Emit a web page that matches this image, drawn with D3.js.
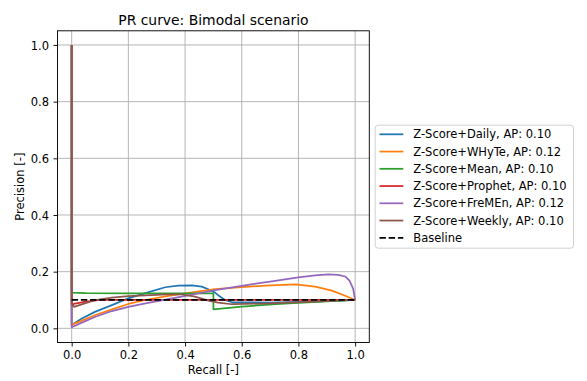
<!DOCTYPE html>
<html>
<head>
<meta charset="utf-8">
<script src="https://cdn.jsdelivr.net/npm/d3@7"></script>
<style>
  html, body { margin: 0; padding: 0; background: #fff; }
  svg { display: block; font-family: "DejaVu Sans", sans-serif; }
</style>
</head>
<body>
<svg id="chart" width="587" height="381"></svg>
<script>
// ---- data ----
const seriesNames = ["Z-Score+Daily", "Z-Score+WHyTe", "Z-Score+Mean", "Z-Score+Prophet", "Z-Score+FreMEn", "Z-Score+Weekly"];
const apValues = [0.10, 0.12, 0.10, 0.10, 0.12, 0.10];
const seriesColors = ["#1f77b4", "#ff7f0e", "#2ca02c", "#d62728", "#9467bd", "#8c564b"];

const recallDaily    = [0, 0, 0.036, 0.084, 0.142, 0.2, 0.26, 0.33, 0.376, 0.424, 0.459, 0.482, 0.506, 0.523, 0.541, 0.565, 0.7, 0.85, 1];
const precisionDaily = [1, 0.012, 0.035, 0.059, 0.082, 0.106, 0.124, 0.145, 0.151, 0.152, 0.147, 0.138, 0.126, 0.112, 0.100, 0.092, 0.091, 0.094, 0.1];

const recallWHyTe    = [0, 0, 0.036, 0.084, 0.142, 0.2, 0.26, 0.336, 0.42, 0.506, 0.6, 0.7, 0.79, 0.859, 0.918, 0.965, 1];
const precisionWHyTe = [1, 0.012, 0.027, 0.047, 0.067, 0.086, 0.1, 0.114, 0.126, 0.138, 0.145, 0.152, 0.155, 0.147, 0.133, 0.115, 0.1];

const recallMean    = [0, 0, 0.05, 0.2, 0.5, 0.5, 0.6, 0.75, 1];
const precisionMean = [1, 0.126, 0.124, 0.123, 0.123, 0.067, 0.077, 0.087, 0.1];

const recallProphet    = [0, 0, 0.007, 0.05, 0.1, 1];
const precisionProphet = [1, 0.08, 0.086, 0.094, 0.1, 0.1];

const recallFreMEn    = [0, 0, 0.036, 0.084, 0.142, 0.2, 0.26, 0.336, 0.42, 0.506, 0.6, 0.7, 0.8, 0.859, 0.906, 0.94, 0.965, 0.98, 0.993, 1];
const precisionFreMEn = [1, 0.004, 0.02, 0.041, 0.061, 0.076, 0.088, 0.102, 0.118, 0.135, 0.15, 0.165, 0.18, 0.187, 0.19, 0.189, 0.183, 0.168, 0.14, 0.1];

const recallWeekly    = [0, 0, 0.008, 0.03, 0.084, 0.142, 0.2, 0.26, 0.336, 0.388, 0.435, 0.482, 0.517, 0.565, 0.7, 0.85, 1];
const precisionWeekly = [1, 0.09, 0.076, 0.083, 0.1, 0.108, 0.114, 0.116, 0.12, 0.12, 0.112, 0.098, 0.091, 0.085, 0.088, 0.094, 0.1];

const recallBaseline    = [0, 1];
const precisionBaseline = [0.1, 0.1];

const tickValues = [0, 0.2, 0.4, 0.6, 0.8, 1.0];
const titleText = "PR curve: Bimodal scenario";
const xLabel = "Recall [-]";
const yLabel = "Precision [-]";
const baselineLabel = "Baseline";

const seriesRecall = [recallDaily, recallWHyTe, recallMean, recallProphet, recallFreMEn, recallWeekly];
const seriesPrecision = [precisionDaily, precisionWHyTe, precisionMean, precisionProphet, precisionFreMEn, precisionWeekly];

// ---- layout ----
const svg = d3.select("#chart");
const L = 57.5, R = 369.3, T = 30.8, B = 342.5;
const x = d3.scaleLinear().domain([-0.05, 1.05]).range([L, R]);
const y = d3.scaleLinear().domain([-0.05, 1.05]).range([B, T]);
const fs = 11.5;
const lw = 1.75;

// grid
const grid = svg.append("g");
tickValues.forEach(v => {
  grid.append("line").attr("x1", x(v)).attr("x2", x(v)).attr("y1", T).attr("y2", B)
    .attr("stroke", "#b0b0b0").attr("stroke-width", 0.93);
  grid.append("line").attr("x1", L).attr("x2", R).attr("y1", y(v)).attr("y2", y(v))
    .attr("stroke", "#b0b0b0").attr("stroke-width", 0.93);
});

// clip
svg.append("clipPath").attr("id", "clip").append("rect")
  .attr("x", L).attr("y", T).attr("width", R - L).attr("height", B - T);

const line = d3.line().x(d => x(d[0])).y(d => y(d[1]));
const plot = svg.append("g").attr("clip-path", "url(#clip)");

seriesNames.forEach((name, i) => {
  const pts = seriesRecall[i].map((r, j) => [r, seriesPrecision[i][j]]);
  plot.append("path").datum(pts).attr("d", line)
    .attr("fill", "none").attr("stroke", seriesColors[i])
    .attr("stroke-width", lw).attr("stroke-linejoin", "round").attr("stroke-linecap", "butt");
});
plot.append("path").datum(recallBaseline.map((r, j) => [r, precisionBaseline[j]])).attr("d", line)
  .attr("fill", "none").attr("stroke", "#000").attr("stroke-width", lw)
  .attr("stroke-dasharray", "6.4,2.8");

// axes
const xAxis = d3.axisBottom(x).tickValues(tickValues).tickFormat(d3.format(".1f"))
  .tickSizeInner(4).tickSizeOuter(0).tickPadding(4.5);
const yAxis = d3.axisLeft(y).tickValues(tickValues).tickFormat(d3.format(".1f"))
  .tickSizeInner(4).tickSizeOuter(0).tickPadding(4.5);
const gx = svg.append("g").attr("transform", `translate(0,${B})`).call(xAxis);
const gy = svg.append("g").attr("transform", `translate(${L},0)`).call(yAxis);
[gx, gy].forEach(g => {
  g.select(".domain").remove();
  g.selectAll(".tick line").attr("stroke", "#000").attr("stroke-width", 0.93);
  g.selectAll(".tick text").attr("fill", "#000").attr("font-size", fs)
    .attr("font-family", "DejaVu Sans");
});
gy.selectAll(".tick text").attr("dy", "0.36em");

// spines
svg.append("rect").attr("x", L).attr("y", T).attr("width", R - L).attr("height", B - T)
  .attr("fill", "none").attr("stroke", "#000").attr("stroke-width", 0.93);

// title & labels
svg.append("text").attr("x", (L + R) / 2).attr("y", 24.5).attr("text-anchor", "middle")
  .attr("font-size", 13.9).attr("fill", "#000").text(titleText);
svg.append("text").attr("x", (L + R) / 2).attr("y", 374).attr("text-anchor", "middle")
  .attr("font-size", fs).attr("fill", "#000").text(xLabel);
svg.append("text").attr("transform", `translate(24,${(T + B) / 2}) rotate(-90)`)
  .attr("text-anchor", "middle").attr("font-size", fs).attr("fill", "#000").text(yLabel);

// legend
const lg = svg.append("g");
lg.append("rect").attr("x", 375.2).attr("y", 125.2).attr("width", 198.3).attr("height", 123)
  .attr("rx", 3).attr("ry", 3).attr("fill", "#fff").attr("fill-opacity", 0.8)
  .attr("stroke", "#cccccc").attr("stroke-width", 0.93);
const rowY0 = 134.3, rowDy = 17.25;
const legendItems = seriesNames.map((n, i) => ({ label: `${n}, AP: ${apValues[i].toFixed(2)}`, color: seriesColors[i], dash: null }));
legendItems.push({ label: baselineLabel, color: "#000", dash: "6.4,2.8" });
legendItems.forEach((it, i) => {
  const yy = rowY0 + i * rowDy;
  const ln = lg.append("line").attr("x1", 379.5).attr("x2", 403.3).attr("y1", yy).attr("y2", yy)
    .attr("stroke", it.color).attr("stroke-width", lw);
  if (it.dash) ln.attr("stroke-dasharray", it.dash);
  lg.append("text").attr("x", 413.3).attr("y", yy).attr("dy", "0.36em")
    .attr("font-size", fs).attr("fill", "#000").text(it.label);
});
</script>
</body>
</html>
